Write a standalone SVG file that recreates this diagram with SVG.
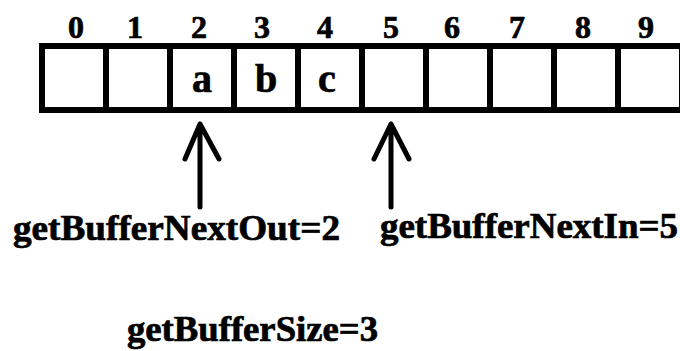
<svg xmlns="http://www.w3.org/2000/svg" width="680" height="351" viewBox="0 0 680 351">
<style>
.cell{fill:#fff;stroke:#000;stroke-width:6}
text{font-family:'Liberation Serif','Times New Roman',serif;font-weight:700;fill:#000;stroke:#000;stroke-width:0.7}
.idx{font-size:32px;text-anchor:middle}
.val{font-size:40px;text-anchor:middle}
.lbl{font-size:35px}
.arr{fill:none;stroke:#000;stroke-width:5;stroke-linecap:round;stroke-linejoin:round}
</style>
<rect width="680" height="351" fill="#fff"/>
<g id="buffer">
<g id="cell0"><rect class="cell" x="42" y="46" width="64" height="64"/><text class="idx" x="76" y="38">0</text></g>
<g id="cell1"><rect class="cell" x="106" y="46" width="64" height="64"/><text class="idx" x="135" y="38">1</text></g>
<g id="cell2"><rect class="cell" x="170" y="46" width="64" height="64"/><text class="idx" x="199" y="38">2</text><text class="val" x="202" y="92">a</text></g>
<g id="cell3"><rect class="cell" x="234" y="46" width="64" height="64"/><text class="idx" x="262" y="38">3</text><text class="val" x="266" y="92">b</text></g>
<g id="cell4"><rect class="cell" x="298" y="46" width="64" height="64"/><text class="idx" x="325" y="38">4</text><text class="val" x="327" y="92">c</text></g>
<g id="cell5"><rect class="cell" x="362" y="46" width="64" height="64"/><text class="idx" x="391" y="38">5</text></g>
<g id="cell6"><rect class="cell" x="426" y="46" width="64" height="64"/><text class="idx" x="452" y="38">6</text></g>
<g id="cell7"><rect class="cell" x="490" y="46" width="64" height="64"/><text class="idx" x="517" y="38">7</text></g>
<g id="cell8"><rect class="cell" x="554" y="46" width="64" height="64"/><text class="idx" x="583" y="38">8</text></g>
<g id="cell9"><rect class="cell" x="618" y="46" width="64" height="64"/><text class="idx" x="646" y="38">9</text></g>
</g>
<g id="connectors">
<path class="arr" d="M200,207 V124 M185,159 L200,124 L219,159"/>
<path class="arr" d="M391,207 V124 M374,159 L391,124 L409,159"/>
</g>
<g id="nextOut"><text class="lbl" x="13" y="240" textLength="327" lengthAdjust="spacingAndGlyphs">getBufferNextOut=2</text></g>
<g id="nextIn"><text class="lbl" x="380" y="238" textLength="298" lengthAdjust="spacingAndGlyphs">getBufferNextIn=5</text></g>
<g id="size"><text class="lbl" x="127" y="341" textLength="251" lengthAdjust="spacingAndGlyphs">getBufferSize=3</text></g>
</svg>
